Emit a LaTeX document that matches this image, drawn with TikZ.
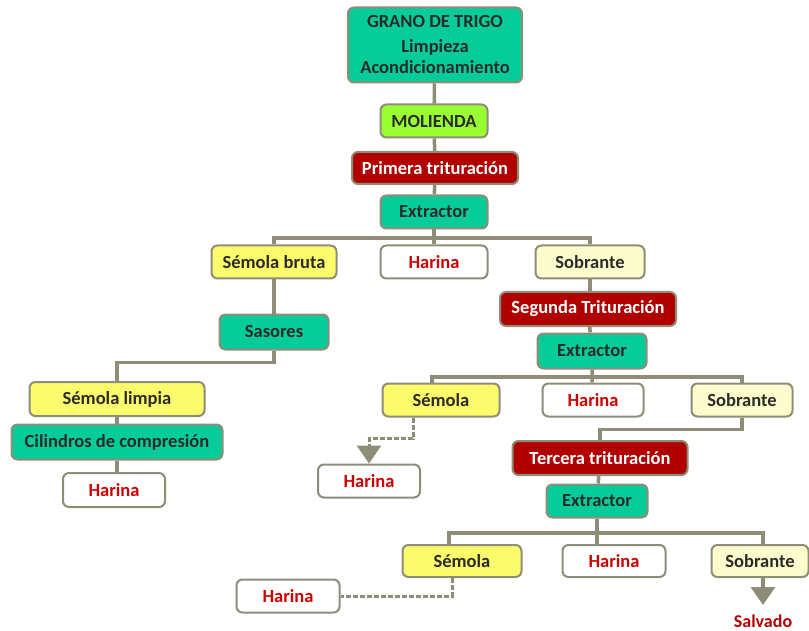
\documentclass[tikz,border=0pt]{standalone}
\usepackage{fontspec}
\setmainfont{Carlito}
\usepackage{xcolor}
\usetikzlibrary{arrows.meta}
\usetikzlibrary{positioning}
\definecolor{verdeagua}{HTML}{06CC9A}
\definecolor{lima}{HTML}{99FF33}
\definecolor{amarillo}{HTML}{FBFB6B}
\definecolor{crema}{HTML}{FCFCCC}
\definecolor{granate}{HTML}{B00000}
\definecolor{gris}{HTML}{8F8C78}
\definecolor{texto}{HTML}{2B2B2B}
\definecolor{rojo}{HTML}{CC0000}

\begin{document}
\begin{tikzpicture}[x=1pt, y=-1pt,
    caja/.style={draw=gris, line width=2pt, rounded corners=6pt, inner sep=0pt,
      minimum height=33pt, text=texto, font=\fontsize{18.5}{21}\selectfont\bfseries},
    verde/.style={caja, fill=verdeagua},
    paso/.style={caja, fill=granate, text=white},
    semola/.style={caja, fill=amarillo},
    sobra/.style={caja, fill=crema},
    harina/.style={caja, fill=white, text=rojo},
    conn/.style={draw=gris, line width=3.5pt},
    punt/.style={draw=gris, line width=3pt, dash pattern=on 5pt off 2pt},
    flecha/.style={-{Triangle[width=24pt,length=18pt]}}]

      \useasboundingbox (0,0) rectangle (809,631);

      % tronco principal
      \node [verde, minimum width=174pt, minimum height=75pt, align=center]
      (grano) at (435,45) {GRANO DE TRIGO\\[4pt]Limpieza\\Acondicionamiento};
      \node [caja, fill=lima, minimum width=107pt] (molienda) at (434,121) {MOLIENDA};
      \node [paso, minimum width=166pt, minimum height=32pt] (trit1) at (435,168) {Primera trituración};
      \node [verde, minimum width=107pt] (ext1) at (434,212) {Extractor};

      \node [semola, minimum width=125pt] (sembruta) at (274,262) {Sémola bruta};
      \node [harina, minimum width=107pt] (har1) at (434,262) {Harina};
      \node [sobra, minimum width=109pt] (sob1) at (590,262) {Sobrante};

      % rama de la semola bruta
      \node [verde, minimum width=109pt, minimum height=35pt] (sasores) at (274,332) {Sasores};
      \node [semola, minimum width=175pt, minimum height=34pt] (semlimpia) at (117,399) {Sémola limpia};
      \node [verde, minimum width=211pt, minimum height=35pt] (cilindros) at (117,442) {Cilindros de compresión};
      \node [harina, minimum width=102pt, minimum height=34pt] (har2) at (114,490) {Harina};

      % segunda trituracion
      \node [paso, minimum width=176pt, minimum height=34pt] (trit2) at (588,309) {Segunda Trituración};
      \node [verde, minimum width=109pt, minimum height=35pt] (ext2) at (592,351) {Extractor};
      \node [semola, minimum width=117pt] (sem2) at (441,400) {Sémola};
      \node [harina, minimum width=101pt] (har3) at (593,400) {Harina};
      \node [sobra, minimum width=101pt] (sob2) at (742,400) {Sobrante};
      \node [harina, minimum width=102pt] (har4) at (369,481) {Harina};

      % tercera trituracion
      \node [paso, minimum width=175pt, minimum height=34pt] (trit3) at (600,458) {Tercera trituración};
      \node [verde, minimum width=101pt] (ext3) at (597,501) {Extractor};
      \node [semola, minimum width=119pt, minimum height=32pt] (sem3) at (462,561) {Sémola};
      \node [harina, minimum width=103pt, minimum height=32pt] (har5) at (614,561) {Harina};
      \node [sobra, minimum width=97pt, minimum height=32pt] (sob3) at (760,561) {Sobrante};
      \node [harina, minimum width=103pt] (har6) at (288,596) {Harina};
      \node [inner sep=1pt, text=granate, font=\fontsize{18}{21}\selectfont\bfseries]
      (salvado) at (763,621) {Salvado};

      \coordinate (bar1) at (434,238);
      \coordinate (bar2) at (592,377);
      \coordinate (bar3) at (597,533);
      \coordinate (punta) at (763,605);

      \draw [conn] (grano) -- (molienda);
      \draw [conn] (molienda) -- (trit1);
      \draw [conn] (trit1) -- (ext1);
      \draw [conn] (ext1) -- (bar1) -- (har1);
      \draw [conn] (sembruta) |- (bar1) -| (sob1);

      \draw [conn] (sembruta) -- (sasores);
      \draw [conn] (sasores.south) -- ++(0,12) -| (semlimpia.north);
      \draw [conn] (semlimpia) -- (cilindros);
      \draw [conn] (cilindros.south) -- (cilindros.south |- har2.north);

      \draw [conn] (sob1.south) -- (sob1.south |- trit2.north);
      \draw [conn] (trit2) -- (ext2);
      \draw [conn] (ext2) -- (bar2) -- (har3);
      \draw [conn] ([xshift=-9pt]sem2.north) |- (bar2) -| (sob2);
      \draw [punt, flecha] ([xshift=-28pt]sem2.south) -- ++(0,21) -| (har4.north);

      \draw [conn] (sob2.south) -- ++(0,12) -| (trit3.north);
      \draw [conn] (trit3) -- (ext3);
      \draw [conn] (ext3) -- (bar3) -- (har5.north -| bar3);
      \draw [conn] ([xshift=-13pt]sem3.north) |- (bar3) -| ([xshift=3pt]sob3.north);
      \draw [punt] ([xshift=-10pt]sem3.south) |- (har6.east);
      \draw [conn, flecha] ([xshift=3pt]sob3.south) -- (punta);

    \end{tikzpicture}
\end{document}
